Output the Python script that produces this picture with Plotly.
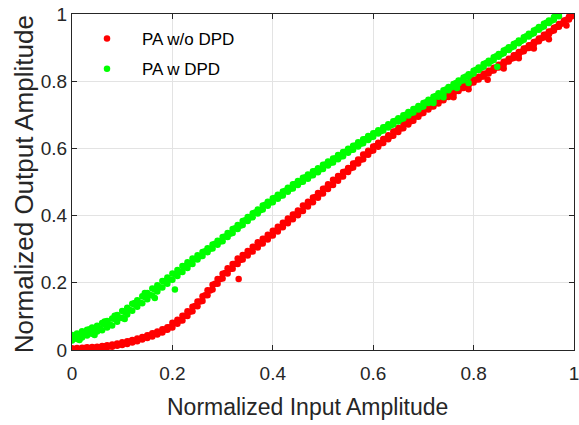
import plotly.graph_objects as go

# Normalized input amplitude grid (AM/AM samples)
in_amp = [0.00, 0.01, 0.02, 0.03, 0.04, 0.05, 0.06, 0.07, 0.08, 0.09,
          0.10, 0.11, 0.12, 0.13, 0.14, 0.15, 0.16, 0.17, 0.18, 0.19,
          0.20, 0.21, 0.22, 0.23, 0.24, 0.25, 0.26, 0.27, 0.28, 0.29,
          0.30, 0.31, 0.32, 0.33, 0.34, 0.35, 0.36, 0.37, 0.38, 0.39,
          0.40, 0.41, 0.42, 0.43, 0.44, 0.45, 0.46, 0.47, 0.48, 0.49,
          0.50, 0.51, 0.52, 0.53, 0.54, 0.55, 0.56, 0.57, 0.58, 0.59,
          0.60, 0.61, 0.62, 0.63, 0.64, 0.65, 0.66, 0.67, 0.68, 0.69,
          0.70, 0.71, 0.72, 0.73, 0.74, 0.75, 0.76, 0.77, 0.78, 0.79,
          0.80, 0.81, 0.82, 0.83, 0.84, 0.85, 0.86, 0.87, 0.88, 0.89,
          0.90, 0.91, 0.92, 0.93, 0.94, 0.95, 0.96, 0.97, 0.98, 0.99]
# interleaved input amplitudes between the grid samples
in_amp_mid = [0.005, 0.015, 0.025, 0.035, 0.045, 0.055, 0.065, 0.075, 0.085, 0.095,
              0.105, 0.115, 0.125, 0.135, 0.145, 0.155, 0.165, 0.175, 0.185, 0.195,
              0.205, 0.215, 0.225, 0.235, 0.245, 0.255, 0.265, 0.275, 0.285, 0.295,
              0.305, 0.315, 0.325, 0.335, 0.345, 0.355, 0.365, 0.375, 0.385, 0.395,
              0.405, 0.415, 0.425, 0.435, 0.445, 0.455, 0.465, 0.475, 0.485, 0.495,
              0.505, 0.515, 0.525, 0.535, 0.545, 0.555, 0.565, 0.575, 0.585, 0.595,
              0.605, 0.615, 0.625, 0.635, 0.645, 0.655, 0.665, 0.675, 0.685, 0.695,
              0.705, 0.715, 0.725, 0.735, 0.745, 0.755, 0.765, 0.775, 0.785, 0.795,
              0.805, 0.815, 0.825, 0.835, 0.845, 0.855, 0.865, 0.875, 0.885, 0.895,
              0.905, 0.915, 0.925, 0.935, 0.945, 0.955, 0.965, 0.975, 0.985, 0.995]

# PA without DPD: upper edge, lower edge and core of the measured cloud
pa_hi = [0.005, 0.006, 0.007, 0.008, 0.009, 0.010, 0.012, 0.014, 0.016, 0.019,
         0.023, 0.026, 0.030, 0.034, 0.039, 0.044, 0.050, 0.055, 0.062, 0.068,
         0.081, 0.090, 0.102, 0.115, 0.129, 0.144, 0.160, 0.178, 0.194, 0.211,
         0.227, 0.243, 0.256, 0.272, 0.283, 0.295, 0.307, 0.321, 0.331, 0.343,
         0.355, 0.367, 0.379, 0.391, 0.403, 0.415, 0.430, 0.441, 0.454, 0.467,
         0.480, 0.493, 0.507, 0.518, 0.530, 0.542, 0.555, 0.567, 0.582, 0.593,
         0.606, 0.617, 0.628, 0.639, 0.650, 0.661, 0.674, 0.683, 0.694, 0.706,
         0.717, 0.726, 0.735, 0.744, 0.753, 0.761, 0.770, 0.779, 0.788, 0.796,
         0.804, 0.813, 0.822, 0.831, 0.840, 0.849, 0.858, 0.867, 0.877, 0.887,
         0.897, 0.907, 0.917, 0.927, 0.938, 0.948, 0.959, 0.970, 0.981, 0.992]
pa_lo = [0.000, 0.001, 0.002, 0.002, 0.003, 0.004, 0.006, 0.008, 0.010, 0.013,
         0.015, 0.018, 0.022, 0.026, 0.031, 0.036, 0.040, 0.046, 0.052, 0.060,
         0.067, 0.078, 0.088, 0.101, 0.115, 0.130, 0.146, 0.163, 0.180, 0.197,
         0.213, 0.228, 0.242, 0.256, 0.269, 0.281, 0.293, 0.305, 0.317, 0.329,
         0.341, 0.353, 0.365, 0.377, 0.389, 0.401, 0.414, 0.427, 0.440, 0.453,
         0.466, 0.479, 0.491, 0.504, 0.516, 0.530, 0.543, 0.555, 0.568, 0.581,
         0.594, 0.605, 0.616, 0.627, 0.638, 0.649, 0.660, 0.671, 0.682, 0.694,
         0.705, 0.716, 0.725, 0.734, 0.743, 0.753, 0.762, 0.771, 0.780, 0.788,
         0.796, 0.805, 0.814, 0.823, 0.832, 0.841, 0.850, 0.859, 0.869, 0.879,
         0.889, 0.899, 0.909, 0.919, 0.930, 0.940, 0.951, 0.962, 0.973, 0.984]
pa_mid = [0.003, 0.002, 0.006, 0.005, 0.007, 0.008, 0.011, 0.011, 0.015, 0.017,
          0.021, 0.025, 0.027, 0.033, 0.038, 0.043, 0.049, 0.053, 0.061, 0.068,
          0.080, 0.088, 0.102, 0.114, 0.131, 0.144, 0.163, 0.177, 0.197, 0.211,
          0.229, 0.241, 0.257, 0.268, 0.283, 0.293, 0.307, 0.317, 0.331, 0.341,
          0.355, 0.365, 0.379, 0.389, 0.403, 0.413, 0.429, 0.440, 0.455, 0.466,
          0.481, 0.491, 0.506, 0.516, 0.531, 0.541, 0.556, 0.566, 0.582, 0.592,
          0.607, 0.615, 0.629, 0.637, 0.651, 0.659, 0.673, 0.681, 0.695, 0.704,
          0.717, 0.725, 0.735, 0.743, 0.753, 0.761, 0.771, 0.779, 0.789, 0.796,
          0.805, 0.813, 0.823, 0.831, 0.841, 0.849, 0.859, 0.867, 0.878, 0.888,
          0.898, 0.908, 0.918, 0.928, 0.939, 0.949, 0.961, 0.971, 0.983, 0.993]
# isolated samples of PA without DPD
pa_x_extra = [0.332, 0.76, 0.79, 0.828, 0.86, 0.89, 0.92, 0.95, 0.985, 0.997]
pa_y_extra = [0.211, 0.752, 0.776, 0.804, 0.838, 0.868, 0.897, 0.925, 0.966, 0.997]

# PA with DPD: upper edge, lower edge and core of the measured cloud (x up to 0.97)
dpd_hi = [0.045, 0.049, 0.056, 0.060, 0.067, 0.072, 0.080, 0.086, 0.094, 0.104,
          0.116, 0.126, 0.138, 0.148, 0.160, 0.170, 0.183, 0.193, 0.205, 0.216,
          0.228, 0.238, 0.250, 0.261, 0.272, 0.282, 0.292, 0.303, 0.314, 0.325,
          0.336, 0.348, 0.360, 0.372, 0.384, 0.396, 0.407, 0.418, 0.430, 0.441,
          0.452, 0.462, 0.472, 0.483, 0.493, 0.503, 0.513, 0.522, 0.532, 0.541,
          0.551, 0.561, 0.570, 0.580, 0.589, 0.599, 0.608, 0.618, 0.627, 0.637,
          0.645, 0.654, 0.663, 0.672, 0.681, 0.690, 0.699, 0.708, 0.717, 0.726,
          0.735, 0.745, 0.754, 0.764, 0.773, 0.783, 0.792, 0.802, 0.811, 0.821,
          0.831, 0.841, 0.851, 0.861, 0.871, 0.881, 0.891, 0.901, 0.911, 0.921,
          0.931, 0.941, 0.951, 0.961, 0.971, 0.981, 0.991, 1.000]
dpd_lo = [0.028, 0.033, 0.037, 0.043, 0.048, 0.055, 0.059, 0.067, 0.073, 0.084,
          0.095, 0.106, 0.117, 0.129, 0.139, 0.151, 0.162, 0.174, 0.186, 0.197,
          0.209, 0.220, 0.232, 0.244, 0.256, 0.269, 0.280, 0.291, 0.302, 0.313,
          0.324, 0.336, 0.348, 0.360, 0.372, 0.384, 0.395, 0.406, 0.418, 0.429,
          0.440, 0.450, 0.460, 0.471, 0.481, 0.491, 0.501, 0.510, 0.520, 0.529,
          0.539, 0.549, 0.558, 0.568, 0.577, 0.587, 0.596, 0.606, 0.615, 0.625,
          0.635, 0.644, 0.653, 0.662, 0.671, 0.680, 0.689, 0.698, 0.707, 0.716,
          0.725, 0.735, 0.744, 0.754, 0.763, 0.773, 0.784, 0.794, 0.803, 0.813,
          0.823, 0.833, 0.843, 0.853, 0.863, 0.873, 0.883, 0.893, 0.903, 0.913,
          0.923, 0.933, 0.943, 0.953, 0.963, 0.973, 0.983, 0.993]
dpd_mid = [0.041, 0.040, 0.052, 0.050, 0.063, 0.064, 0.076, 0.077, 0.092, 0.097,
           0.113, 0.119, 0.135, 0.141, 0.158, 0.164, 0.180, 0.187, 0.203, 0.210,
           0.226, 0.233, 0.249, 0.256, 0.271, 0.279, 0.294, 0.301, 0.316, 0.323,
           0.338, 0.346, 0.362, 0.370, 0.386, 0.394, 0.409, 0.416, 0.432, 0.439,
           0.453, 0.459, 0.474, 0.480, 0.494, 0.500, 0.514, 0.519, 0.533, 0.538,
           0.552, 0.557, 0.571, 0.576, 0.590, 0.595, 0.609, 0.614, 0.628, 0.633,
           0.646, 0.651, 0.664, 0.669, 0.682, 0.687, 0.700, 0.705, 0.718, 0.723,
           0.737, 0.743, 0.756, 0.762, 0.775, 0.781, 0.795, 0.801, 0.814, 0.820,
           0.834, 0.840, 0.854, 0.860, 0.874, 0.880, 0.894, 0.900, 0.914, 0.920,
           0.934, 0.940, 0.954, 0.960, 0.974, 0.980, 0.994]
# isolated samples of PA with DPD
dpd_x_extra = [0.015, 0.035, 0.045, 0.065, 0.085, 0.105, 0.125, 0.145, 0.165,
               0.185, 0.205, 0.225, 0.72, 0.74, 0.767, 0.79, 0.847]
dpd_y_extra = [0.030, 0.062, 0.045, 0.085, 0.102, 0.092, 0.140, 0.170, 0.155,
               0.205, 0.180, 0.248, 0.735, 0.752, 0.780, 0.795, 0.843]

x_ticks = [0, 0.2, 0.4, 0.6, 0.8, 1]
tick_text = ["0", "0.2", "0.4", "0.6", "0.8", "1"]

n_dpd = len(dpd_hi)
n_dpd_mid = len(dpd_mid)

FONT = "Liberation Sans, Arial, Helvetica, sans-serif"
INK = "#262626"

fig = go.Figure()
fig.add_trace(go.Scatter(
    x=in_amp + in_amp + in_amp_mid + pa_x_extra,
    y=pa_hi + pa_lo + pa_mid + pa_y_extra,
    mode="markers", name="PA w/o DPD", legendgroup="a",
    marker=dict(color="#ff0000", size=6.5, line=dict(width=0)),
))
fig.add_trace(go.Scatter(
    x=in_amp[:n_dpd] + in_amp[:n_dpd] + in_amp_mid[:n_dpd_mid] + dpd_x_extra,
    y=dpd_hi + dpd_lo + dpd_mid + dpd_y_extra,
    mode="markers", name="PA w DPD", legendgroup="b",
    marker=dict(color="#00ff00", size=6.5, line=dict(width=0)),
))

axis_common = dict(
    range=[0, 1], tickvals=x_ticks, ticktext=tick_text,
    ticks="inside", ticklen=5, tickcolor=INK, tickwidth=1,
    showline=True, linecolor=INK, linewidth=1, mirror="ticks",
    showgrid=True, gridcolor="#e3e3e3", gridwidth=1,
    zeroline=False, tickfont=dict(family=FONT, size=19, color=INK),
    ticklabeloverflow="allow", fixedrange=True,
)
fig.update_xaxes(**axis_common, ticklabelstandoff=6)
fig.update_yaxes(**axis_common)

fig.update_layout(
    width=579, height=425,
    margin=dict(l=72, r=0, t=14, b=75),
    paper_bgcolor="white", plot_bgcolor="white",
    showlegend=True,
    legend=dict(
        x=0.0, y=0.979, xanchor="left", yanchor="top",
        bgcolor="rgba(0,0,0,0)", borderwidth=0,
        font=dict(family=FONT, size=17, color="#000000"),
        itemwidth=60, tracegroupgap=5,
    ),
    annotations=[
        dict(text="Normalized Input Amplitude", xref="paper", yref="paper",
             x=0.47, y=-0.17, xanchor="center", yanchor="middle", showarrow=False,
             font=dict(family=FONT, size=23, color=INK)),
        dict(text="Normalized Output Amplitude", xref="paper", yref="paper",
             x=-0.095, y=0.494, xanchor="center", yanchor="middle", showarrow=False,
             textangle=-90, font=dict(family=FONT, size=26, color=INK)),
    ],
)

fig.write_html("out.html")
